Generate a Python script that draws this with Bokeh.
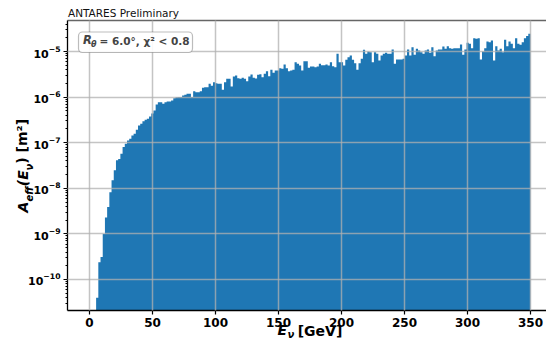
import numpy as np
from bokeh.plotting import figure
from bokeh.models import Range1d, FixedTicker, LogTickFormatter, Label, BoxAnnotation, LinearAxis
from bokeh.embed import file_html
from bokeh.resources import INLINE

# ---------------- data ----------------
bin_width = 1.75          # GeV
first_edge = 5.25         # GeV, lower edge of first filled bin

aeff_0_50 = [4.0e-11, 2.4e-10, 3.1e-10, 1.0e-9, 2.3e-9, 3.9e-9, 8.2e-9, 1.5e-8, 2.5e-8, 4.1e-8,
             4.4e-8, 5.7e-8, 8.0e-8, 9.5e-8, 1.12e-7, 1.22e-7, 1.44e-7, 1.57e-7, 1.92e-7, 2.38e-7,
             2.59e-7, 2.96e-7, 3.18e-7, 3.34e-7, 3.76e-7, 4.37e-7, 5.08e-7]
aeff_50_150 = [6.89e-7, 7.73e-7, 7.73e-7, 7.13e-7, 7.73e-7, 8.02e-7, 8.0e-7, 8.41e-7, 9.46e-7, 9.95e-7,
               1.0e-6, 1.0e-6, 1.08e-6, 1.12e-6, 1.18e-6, 1.18e-6, 1.0e-6, 1.35e-6, 1.28e-6, 1.28e-6,
               1.35e-6, 1.60e-6, 1.65e-6, 1.65e-6, 1.96e-6, 1.77e-6, 2.12e-6, 2.02e-6, 1.96e-6, 1.96e-6,
               1.45e-6, 2.12e-6, 2.52e-6, 2.52e-6, 1.71e-6, 2.83e-6, 2.98e-6, 2.59e-6, 2.52e-6, 2.65e-6,
               2.52e-6, 2.23e-6, 2.83e-6, 3.13e-6, 2.65e-6, 2.56e-6, 3.08e-6, 3.18e-6, 2.73e-6, 3.24e-6,
               3.70e-6, 2.87e-6, 3.97e-6, 3.41e-6, 3.83e-6, 3.83e-6]
aeff_150_250 = [4.31e-6, 4.18e-6, 5.19e-6, 4.31e-6, 3.70e-6, 3.83e-6, 3.97e-6, 5.82e-6, 5.37e-6, 4.93e-6,
                3.83e-6, 6.12e-6, 6.12e-6, 4.40e-6, 4.69e-6, 4.69e-6, 4.53e-6, 4.69e-6, 5.37e-6, 5.01e-6,
                5.01e-6, 5.19e-6, 4.93e-6, 5.82e-6, 4.76e-6, 4.53e-6, 8.91e-6, 5.82e-6, 5.82e-6, 4.93e-6,
                6.58e-6, 7.50e-6, 8.17e-6, 6.58e-6, 5.53e-6, 3.97e-6, 5.53e-6, 6.92e-6, 1.09e-5, 8.91e-6,
                1.0e-5, 9.66e-6, 5.82e-6, 9.66e-6, 8.91e-6, 6.35e-6, 8.17e-6, 8.91e-6, 9.36e-6, 8.91e-6,
                8.91e-6, 1.11e-5, 5.37e-6, 6.68e-6, 6.68e-6, 6.68e-6, 6.92e-6]
aeff_250_350 = [8.17e-6, 1.11e-5, 8.17e-6, 1.24e-5, 8.47e-6, 1.15e-5, 1.05e-5, 9.66e-6, 8.91e-6, 1.05e-5,
                1.11e-5, 9.36e-6, 1.24e-5, 7.89e-6, 1.05e-5, 1.11e-5, 1.11e-5, 1.29e-5, 1.15e-5, 1.31e-5,
                1.18e-5, 1.15e-5, 1.18e-5, 1.18e-5, 1.18e-5, 1.43e-5, 8.47e-6, 1.11e-5, 1.55e-5, 1.48e-5,
                1.18e-5, 1.96e-5, 1.90e-5, 1.96e-5, 6.68e-6, 1.0e-5, 1.18e-5, 1.66e-5, 1.60e-5, 1.74e-5,
                6.35e-6, 1.31e-5, 1.05e-5, 1.15e-5, 9.66e-6, 1.81e-5, 1.31e-5, 1.66e-5, 1.48e-5, 1.18e-5,
                1.96e-5, 1.48e-5, 1.40e-5, 1.60e-5, 1.96e-5, 2.2e-5, 2.44e-5]

aeff = aeff_0_50 + aeff_50_150 + aeff_150_250 + aeff_250_350
edges = [first_edge + bin_width * i for i in range(len(aeff) + 1)]

x_ticks = [0, 50, 100, 150, 200, 250, 300, 350]
y_ticks = [1e-10, 1e-9, 1e-8, 1e-7, 1e-6, 1e-5]
y_minor = [m * 10.0 ** e for e in range(-12, -3) for m in range(2, 10)]

title_text = "ANTARES Preliminary"
box_text = "= 6.0°, χ² < 0.8"
# axis-label pieces: (text, pixel centre along the axis)
xlab_big = [("E", 281.8)]
xlab_sub = [("ν", 290.5)]
xlab_up = [("[GeV]", 319.5)]
ylab_big = [("A", 206.6), ("(E", 177.7)]
ylab_sub = [("eff", 193.5), ("ν", 166.5)]
ylab_up = [(") [m²]", 140.8)]

# ---------------- layout ----------------
W, H = 546, 342
FL, FR, FT, FB = 67, 546, 20, 310        # frame pixel edges
X0, X1 = -17.46, 362.7
LT, LB = -4.32, -10.68                    # log10 of y range top / bottom
FONT = "DejaVu Sans"


def xd(px):
    return X0 + (px - FL) / (FR - FL) * (X1 - X0)


def yd(py):
    return 10 ** (LT - (py - FT) / (FB - FT) * (LT - LB))


p = figure(width=W, height=H, y_axis_type="log", title=None,
           x_range=Range1d(X0, X1), y_range=Range1d(10 ** LB, 10 ** LT),
           output_backend="svg", toolbar_location=None,
           min_border_left=FL, min_border_right=W - FR, min_border_top=FT, min_border_bottom=H - FB)
p.outline_line_color = None
p.background_fill_color = "white"
p.border_fill_color = "white"

# histogram as one stepped area (no seams between bins)
p.varea_step(x=edges, y1=[1e-13] * len(edges), y2=aeff + [aeff[-1]], step_mode="after",
             fill_color="#1f77b4")

# main axes
xax = p.xaxis[0]
yax = p.yaxis[0]
for ax in (xax, yax):
    ax.axis_line_color = "black"
    ax.axis_line_width = 1.3
    ax.major_tick_line_color = "black"
    ax.major_tick_line_width = 1.2
    ax.major_tick_out = 4
    ax.major_tick_in = 0
    ax.major_label_text_font = FONT
    ax.major_label_text_font_style = "bold"
    ax.major_label_text_color = "black"
    ax.major_label_standoff = 3
xax.major_label_text_font_size = "12px"
yax.major_label_text_font_size = "11px"
xax.ticker = FixedTicker(ticks=x_ticks)
xax.minor_tick_line_color = None
xax.minor_tick_out = 0
yax.ticker = FixedTicker(ticks=y_ticks, minor_ticks=y_minor)
yax.formatter = LogTickFormatter()
yax.minor_tick_line_color = "black"
yax.minor_tick_out = 2
yax.minor_tick_in = 0


def text_axis(pieces, conv, size, style, standoff, orient="horizontal", color="black", line=None):
    ticks = [conv(c) for _, c in pieces]
    ax = LinearAxis(ticker=FixedTicker(ticks=ticks, minor_ticks=[]),
                    major_label_overrides={t: s for t, (s, _) in zip(ticks, pieces)},
                    axis_line_color=line, axis_line_width=1.6,
                    major_tick_line_color=None, minor_tick_line_color=None,
                    major_tick_out=0, major_tick_in=0, minor_tick_out=0, minor_tick_in=0,
                    major_label_standoff=standoff, major_label_orientation=orient,
                    major_label_text_font=FONT, major_label_text_font_style=style,
                    major_label_text_font_size=size, major_label_text_color=color)
    return ax


# top spine + title
p.add_layout(text_axis([(title_text, 123.0)], xd, "10.5px", "normal", 2, color="#111111",
                       line="#666666"), "above")

# x-axis label pieces (stacked below the main x axis)
p.add_layout(text_axis(xlab_big, xd, "14px", "bold italic", -8), "below")
p.add_layout(text_axis(xlab_up, xd, "14px", "bold", -18), "below")
p.add_layout(text_axis(xlab_sub, xd, "10px", "bold italic", -13), "below")

# y-axis label pieces (stacked left of the main y axis)
p.add_layout(text_axis(ylab_sub, yd, "10px", "bold italic", -9, orient="vertical"), "left")
p.add_layout(text_axis(ylab_big, yd, "14px", "bold italic", -11, orient="vertical"), "left")
p.add_layout(text_axis(ylab_up, yd, "14px", "bold", -18, orient="vertical"), "left")

# grid above bars
for g in (p.xgrid[0], p.ygrid[0]):
    g.grid_line_color = "#b0b0b0"
    g.grid_line_alpha = 0.75
    g.grid_line_width = 1.5
    g.level = "annotation"

# legend-like box
p.add_layout(BoxAnnotation(left=xd(78), right=xd(192), top=yd(31.5), bottom=yd(52),
                           fill_color="white", fill_alpha=0.9, line_color="#222222",
                           line_width=1.2, border_radius=4))
p.add_layout(Label(x=xd(82.5), y=yd(46), text="R", text_font=FONT,
                   text_font_style="bold italic", text_font_size="11.5px"))
p.add_layout(Label(x=xd(90.5), y=yd(48.5), text="θ", text_font=FONT,
                   text_font_style="bold italic", text_font_size="8px"))
p.add_layout(Label(x=xd(99), y=yd(46), text=box_text, text_font=FONT,
                   text_font_style="bold", text_font_size="10.5px"))

open("out.html", "w").write(file_html(p, INLINE))
